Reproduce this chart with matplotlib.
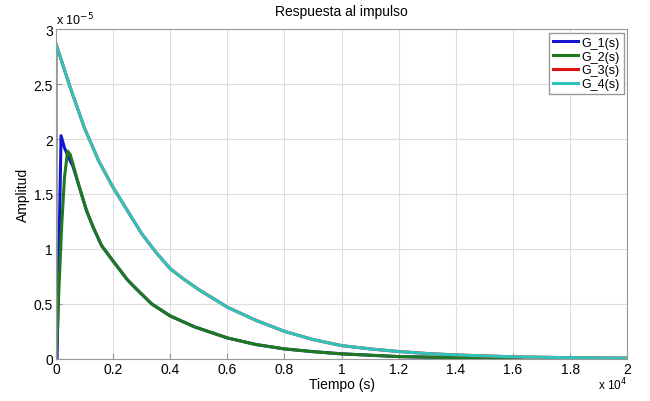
import matplotlib.pyplot as plt
import matplotlib.ticker as ticker

plt.rcParams['font.family'] = ['Liberation Sans', 'DejaVu Sans']

# tiempos en segundos, amplitudes en unidades de 1e-5
t_g1 = [0, 40, 180, 300, 450, 600, 800, 1070, 1300, 1600, 2000, 2500, 2800, 3350, 4000,
        4860, 6000, 7000, 8000, 9000, 10000, 12000, 14000, 16300]
y_g1 = [0, 0.0, 2.03, 1.92, 1.83, 1.75, 1.58, 1.35, 1.2, 1.03, 0.89, 0.72, 0.64, 0.5, 0.39,
        0.29, 0.19, 0.13, 0.09, 0.065, 0.045, 0.02, 0.01, 0.005]

t_g2 = [0, 30, 100, 200, 300, 410, 500, 600, 800, 1070, 1300, 1600, 2000, 2500, 2800, 3350,
        4000, 4860, 6000, 7000, 8000, 9000, 10000, 12000, 14000, 16300]
y_g2 = [0, 0.1, 0.6, 1.2, 1.65, 1.89, 1.86, 1.77, 1.58, 1.35, 1.2, 1.03, 0.89, 0.72, 0.64, 0.5,
        0.39, 0.29, 0.19, 0.13, 0.09, 0.065, 0.045, 0.02, 0.01, 0.005]

t_g34 = [0, 0, 500, 1000, 1500, 2000, 2500, 3000, 3500, 4000, 4500, 5000, 6000, 7000, 8000,
         9000, 10000, 11000, 12000, 13000, 14000, 16000, 18000, 20000]
y_g34 = [0, 2.87, 2.47, 2.1, 1.8, 1.56, 1.35, 1.14, 0.97, 0.82, 0.72, 0.63, 0.47, 0.35, 0.25,
         0.175, 0.12, 0.09, 0.066, 0.048, 0.035, 0.018, 0.01, 0.006]

labels = ['G_1(s)', 'G_2(s)', 'G_3(s)', 'G_4(s)']
colors = ['#1414d2', '#1f7a1f', '#e01010', '#2ec4bc']

fig = plt.figure(figsize=(6.5, 4.02), dpi=100)
ax = fig.add_axes([0.086, 0.105, 0.879, 0.82])

series = [(t_g1, y_g1), (t_g2, y_g2), (t_g34, y_g34), (t_g34, y_g34)]
for (t, y), lab, c in zip(series, labels, colors):
    ax.plot([v / 1e4 for v in t], y, color=c, lw=2.2, label=lab, solid_joinstyle='round')

ax.set_xlim(0, 2)
ax.set_ylim(0, 3)
ax.xaxis.set_major_locator(ticker.MultipleLocator(0.2))
ax.yaxis.set_major_locator(ticker.MultipleLocator(0.5))
ax.xaxis.set_major_formatter(ticker.FuncFormatter(lambda v, p: '%g' % round(v, 1)))
ax.yaxis.set_major_formatter(ticker.FuncFormatter(lambda v, p: '%g' % v))
ax.grid(True, color='#dddddd', lw=0.8)
ax.tick_params(direction='in', labelsize=10, length=4, color='#999999', pad=2)
for s in ax.spines.values():
    s.set_color('#999999')

ax.set_title('Respuesta al impulso', fontsize=10, pad=10)
ax.set_xlabel('Tiempo (s)', fontsize=10, labelpad=1)
ax.set_ylabel('Amplitud', fontsize=10, labelpad=3)
ax.text(0.0, 1.005, r'x 10$^{-5}$', transform=ax.transAxes, fontsize=9, va='bottom', ha='left')
ax.text(1.0, -0.076, r'x 10$^{4}$', transform=ax.transAxes, fontsize=8.5, va='center', ha='right')

leg = ax.legend(loc='upper right', fontsize=9, handlelength=2, handletextpad=0.3,
                borderpad=0.3, labelspacing=0.15, fancybox=False, framealpha=1,
                borderaxespad=0.3)
leg.get_frame().set_edgecolor('#999999')

fig.savefig('out.png', dpi=100)
